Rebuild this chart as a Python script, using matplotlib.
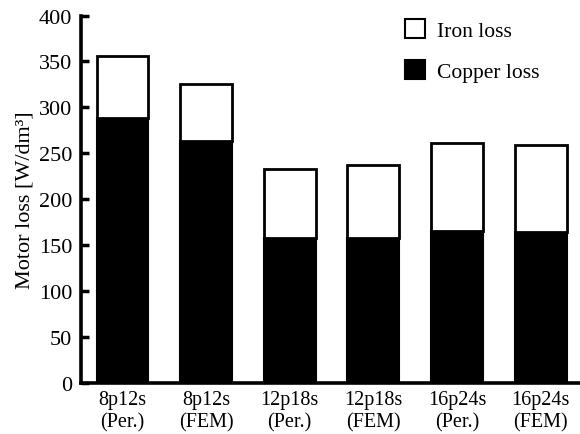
import matplotlib
matplotlib.use("Agg")
import matplotlib.pyplot as plt
from matplotlib.patches import Patch

plt.rcParams['font.family'] = ['Liberation Serif', 'DejaVu Serif']

categories = ["8p12s\n(Per.)", "8p12s\n(FEM)", "12p18s\n(Per.)", "12p18s\n(FEM)", "16p24s\n(Per.)", "16p24s\n(FEM)"]
copper_loss = [288, 263, 158, 158, 166, 164]
iron_loss = [68, 62, 75, 79, 95, 95]
yticks = [0, 50, 100, 150, 200, 250, 300, 350, 400]

fig = plt.figure(figsize=(5.8, 4.35), dpi=100)
ax = fig.add_axes([0.139, 0.117, 0.861, 0.845])

x = list(range(len(categories)))
ax.bar(x, copper_loss, width=0.62, color='black', edgecolor='black', linewidth=1.5, zorder=2)
ax.bar(x, iron_loss, bottom=copper_loss, width=0.62, color='white', edgecolor='black', linewidth=2.0, zorder=2)

ax.set_xlim(-0.5, 5.47)
ax.set_ylim(0, 400)
ax.set_yticks(yticks)
ax.set_xticks(x)
ax.set_xticklabels(categories, fontsize=14.5, linespacing=1.25)
ax.tick_params(axis='y', direction='in', length=6, width=2.5, labelsize=16, pad=6)
ax.tick_params(axis='x', length=0, pad=5)
for s in ['top', 'right']:
    ax.spines[s].set_visible(False)
for s in ['left', 'bottom']:
    ax.spines[s].set_linewidth(2.6)
ax.set_ylabel("Motor loss [W/dm³]", fontsize=16, labelpad=3)

handles = [Patch(facecolor='white', edgecolor='black', linewidth=1.5, label='Iron loss'),
           Patch(facecolor='black', edgecolor='black', linewidth=1.5, label='Copper loss')]
fig.legend(handles=handles, loc='upper left', bbox_to_anchor=(405/580, 1 - 20/435),
           frameon=False, fontsize=15.5, handlelength=0.95, handleheight=0.95,
           handletextpad=0.55, labelspacing=0.9, borderpad=0, borderaxespad=0)

fig.savefig("out.png", dpi=100)
